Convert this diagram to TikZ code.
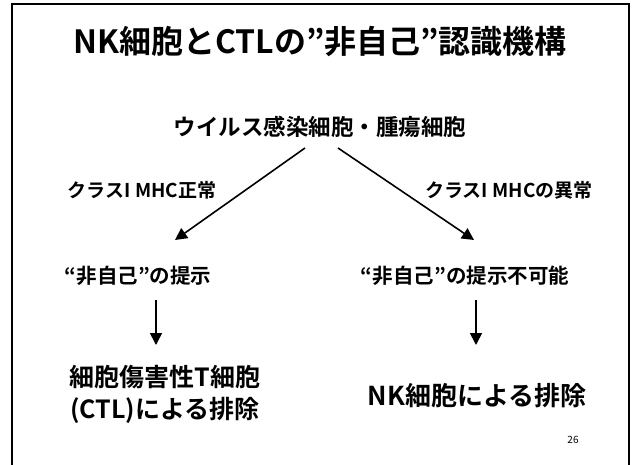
\documentclass[tikz,border=0pt]{standalone}
\usepackage{fontspec}
\setmainfont{Noto Sans CJK JP}[BoldFont={Noto Sans CJK JP Bold}]
\usetikzlibrary{arrows.meta}
\begin{document}
\begin{tikzpicture}[x=1pt,y=-1pt,
  txt/.style={inner sep=0pt,font=\bfseries},
  arr/.style={line width=1.6pt,-{Triangle[length=12pt,width=12pt]}},
  frame/.style={line width=2.6pt}]
\useasboundingbox (0,0) rectangle (632,465);
\draw[frame] (12,470) -- (12,4) -- (629,4) -- (629,470);
\node[txt,font=\bfseries\fontsize{32}{36}\selectfont] (title) at (320,42) {NK細胞とCTLの”非自己”認識機構};
\node[txt,font=\bfseries\fontsize{22.5}{26}\selectfont] (src) at (320,127) {ウイルス感染細胞・腫瘍細胞};
\node[txt,font=\bfseries\fontsize{19}{21}\selectfont] (lblL) at (142,190) {クラスI MHC正常};
\node[txt,font=\bfseries\fontsize{19}{21}\selectfont] (lblR) at (509,190) {クラスI MHCの異常};
\node[txt,font=\bfseries\fontsize{20.5}{23}\selectfont] (presL) at (138,276) {“非自己”の提示};
\node[txt,font=\bfseries\fontsize{20.5}{23}\selectfont] (presR) at (465,276) {“非自己”の提示不可能};
\node[txt,font=\bfseries\fontsize{25}{32}\selectfont,align=center] (ctl) at (165,394) {細胞傷害性T細胞\\(CTL)による排除};
\node[txt,font=\bfseries\fontsize{26}{28}\selectfont] (nk) at (477,396) {NK細胞による排除};
\node[inner sep=0pt,font=\fontsize{10}{12}\selectfont] (page) at (573,440) {26};
\coordinate (sL) at (305,148);
\coordinate (sR) at (338,148);
\coordinate (eL) at (175,240);
\coordinate (eR) at (474,240);
\coordinate (dL1) at (156,300);
\coordinate (dL2) at (156,345);
\coordinate (dR1) at (476,300);
\coordinate (dR2) at (476,345);
\draw[arr] (sL) -- (eL);
\draw[arr] (sR) -- (eR);
\draw[arr] (dL1) -- (dL2);
\draw[arr] (dR1) -- (dR2);
\end{tikzpicture}
\end{document}
